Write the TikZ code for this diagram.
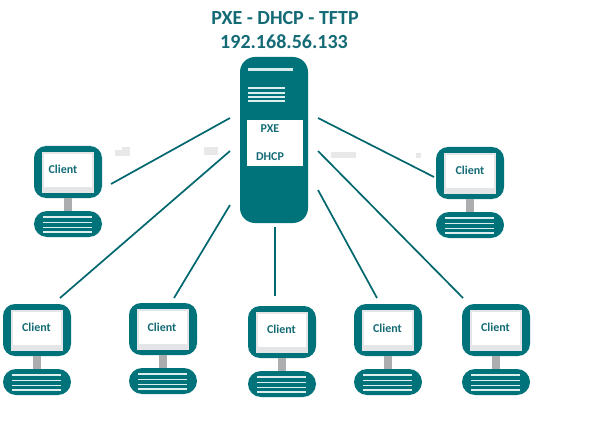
\documentclass[tikz,border=0pt]{standalone}
\usepackage{fontspec}
\setmainfont{Carlito}
\definecolor{tealbody}{HTML}{00737A}
\definecolor{tealtext}{HTML}{146B76}
\definecolor{standgray}{HTML}{ABADAE}
\definecolor{screengray}{HTML}{E4E5E7}
\definecolor{barlight}{HTML}{DDEEEE}
\tikzset{
  link/.style={draw=tealbody!90!black,line width=1.7pt},
  cliname/.style={text=tealtext,font=\bfseries\fontsize{12}{13}\selectfont,inner sep=0pt},
  srvname/.style={text=tealtext,font=\bfseries\fontsize{12}{13}\selectfont,inner sep=0pt},
  titletext/.style={text=tealtext,font=\bfseries\fontsize{20}{22}\selectfont,inner sep=0pt},
  smudge/.style={fill=black!9},
  client/.pic={
    \fill[tealbody,rounded corners=12pt] (0,0) rectangle (68,52);
    \fill[screengray] (8,6) rectangle (60,47);
    \fill[white] (10,8) rectangle (58,41);
    \fill[standgray] (30,52) rectangle (38,65);
    \fill[tealbody,rounded corners=13pt] (0,65) rectangle (68,91);
    \foreach \y in {70,75.5,80.5,85}
      \fill[barlight] (9,\y) rectangle (58,\y+1.7);
  }
}
\begin{document}
\begin{tikzpicture}[x=1pt,y=-1pt]
    \useasboundingbox[fill=white] (0,0) rectangle (589,433);
    % marks left on the page
    \fill[smudge] (115,150) rectangle (130,156);
    \fill[smudge] (122,147) rectangle (130,150);
    \fill[smudge] (204,147) rectangle (218,155);
    \fill[smudge] (331,152) rectangle (356,158);
    \fill[smudge] (416,153) rectangle (421,158);
    % title
    \node[titletext] (title) at (285,18) {PXE - DHCP - TFTP};
    \node[titletext] (addr) at (284,42) {192.168.56.133};
    % server
    \fill[tealbody,rounded corners=15pt] (240,57) rectangle (308,223);
    \fill[white!85!tealbody] (248,68) rectangle (293,71);
    \foreach \y in {87.5,92,96,100}
      \fill[barlight] (248,\y) rectangle (285,\y+1.6);
    \fill[white] (247,120) rectangle (303,166);
    \node[srvname] (pxe) at (270,129) {PXE};
    \node[srvname] (dhcp) at (270,157) {DHCP};
    % clients
    \pic at (34,146) {client};
    \pic at (436,147) {client};
    \pic at (3,304) {client};
    \pic at (129,303) {client};
    \pic at (248,306) {client};
    \pic at (354,304) {client};
    \pic at (462,304) {client};
    \node[cliname] (cliA) at (63,169) {Client};
    \node[cliname] (cliB) at (470,170) {Client};
    \node[cliname] (cliC) at (36.5,327) {Client};
    \node[cliname] (cliD) at (162,327) {Client};
    \node[cliname] (cliE) at (281.5,329) {Client};
    \node[cliname] (cliF) at (387.5,328) {Client};
    \node[cliname] (cliG) at (495.5,327) {Client};
    % link ends
    \coordinate (srvA) at (230,118);
    \coordinate (srvB) at (318,118);
    \coordinate (srvC) at (230,151);
    \coordinate (srvD) at (230,205);
    \coordinate (srvE) at (275,227);
    \coordinate (srvF) at (318,190);
    \coordinate (srvG) at (318,151);
    \coordinate (endA) at (111,184);
    \coordinate (endB) at (434,177);
    \coordinate (endC) at (60,298);
    \coordinate (endD) at (174,298);
    \coordinate (endE) at (275,296);
    \coordinate (endF) at (377,298);
    \coordinate (endG) at (463,298);
    % links
    \draw[link] (srvA) -- (endA);
    \draw[link] (srvB) -- (endB);
    \draw[link] (srvC) -- (endC);
    \draw[link] (srvD) -- (endD);
    \draw[link] (srvE) -- (endE);
    \draw[link] (srvF) -- (endF);
    \draw[link] (srvG) -- (endG);
\end{tikzpicture}
\end{document}
